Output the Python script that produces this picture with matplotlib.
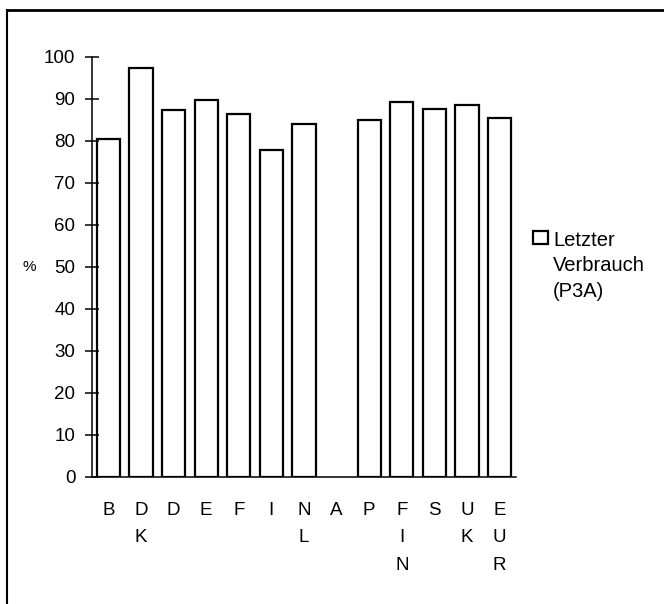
import numpy as np
import matplotlib
matplotlib.use("Agg")
import matplotlib.pyplot as plt
from matplotlib.patches import Rectangle

# Data (A has no bar)
countries = ["B", "DK", "D", "E", "F", "I", "NL", "A", "P", "FIN", "S", "UK", "EUR"]
values = [80.5, 97.3, 87.3, 89.6, 86.4, 77.7, 84.0, np.nan, 84.8, 89.2, 87.5, 88.6, 85.4]
series_label = "Letzter\nVerbrauch\n(P3A)"
y_ticks = list(range(0, 101, 10))

plt.rcParams['font.family'] = ['Liberation Sans', 'DejaVu Sans']

fig = plt.figure(figsize=(6.64, 6.04), dpi=100)
ax = fig.add_axes([0.1386, 0.2103, 0.777 - 0.1386, 0.9063 - 0.2103])

x = np.arange(len(countries))
ax.bar(x, values, width=0.71, color="white", edgecolor="black", linewidth=1.6)

ax.set_xlim(-0.5, len(countries) - 0.5)
ax.set_ylim(0, 100)
ax.set_yticks(y_ticks)
ax.set_yticklabels([str(v) for v in y_ticks], fontsize=13.5)
ax.set_xticks(x)
ax.set_xticklabels(["\n".join(c) for c in countries], fontsize=13.5, linespacing=1.8)

ax.tick_params(axis="y", direction="inout", length=10, width=1.1, pad=7)
ax.tick_params(axis="x", length=0, pad=18)

for side in ["top", "right"]:
    ax.spines[side].set_visible(False)
for side in ["left", "bottom"]:
    ax.spines[side].set_linewidth(1.1)

W, H = 664, 604
fig.text(29 / W, 1 - 267 / H, "%", fontsize=11, ha="center", va="center")

# legend drawn by hand
fig.patches.append(Rectangle((533 / W, 1 - 244 / H), 15 / W, 13 / H,
                             transform=fig.transFigure, facecolor="white",
                             edgecolor="black", linewidth=1.6))
fig.text(553 / W, 1 - 231 / H, series_label, fontsize=14.5, ha="left", va="top",
         linespacing=1.42)

# outer frame (left and top edges visible)
fig.lines.append(plt.Line2D([7 / W, 7 / W], [0, 1 - 10 / H], transform=fig.transFigure,
                            color="black", linewidth=1.5))
fig.lines.append(plt.Line2D([7 / W, 1], [1 - 10 / H, 1 - 10 / H], transform=fig.transFigure,
                            color="black", linewidth=2))

fig.savefig("out.png", dpi=100)
